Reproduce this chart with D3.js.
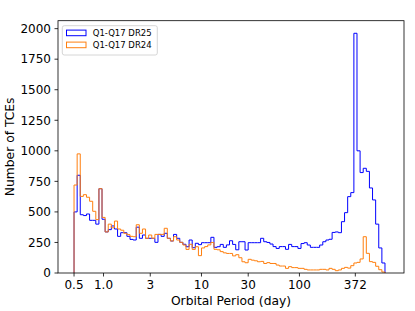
<!DOCTYPE html>
<html>
<head>
<meta charset="utf-8">
<script src="https://cdn.jsdelivr.net/npm/d3@7"></script>
<style>
  body { margin: 0; background: #fff; }
  svg { display: block; font-family: "DejaVu Sans", sans-serif; }
</style>
</head>
<body>
<svg id="svg"></svg>
<script>
// histogram counts per log-spaced period bin (100 bins, 0.5 .. ~747 days)
const binStart = 0.5;
const binEnd = 747;
const dr25 = [500, 800, 477, 470, 483, 431, 431, 400, 690, 440,
    336, 355, 385, 360, 300, 330, 330, 300, 275, 270,
    375, 284, 311, 284, 284, 284, 251, 316, 300, 325,
    284, 262, 316, 284, 251, 235, 215, 270, 207, 243,
    232, 248, 248, 248, 292, 210, 215, 234, 210, 230,
    264, 234, 190, 256, 256, 188, 248, 248, 248, 248,
    284, 256, 250, 237, 216, 201, 216, 216, 194, 234,
    216, 216, 201, 241, 248, 229, 210, 210, 210, 229,
    256, 270, 276, 332, 336, 330, 420, 494, 625, 658,
    1962, 1000, 822, 857, 832, 696, 598, 400, 205, 82];
const dr24 = [720, 975, 627, 641, 620, 587, 505, 437, 690, 455,
    336, 400, 370, 425, 360, 350, 325, 314, 300, 297,
    395, 325, 360, 284, 311, 284, 316, 316, 316, 366,
    284, 262, 297, 270, 251, 229, 193, 235, 193, 215,
    142, 205, 216, 230, 250, 194, 190, 175, 165, 160,
    160, 140, 150, 125, 92, 84, 112, 105, 100, 92,
    95, 78, 85, 78, 78, 65, 57, 57, 38, 52,
    44, 44, 38, 38, 30, 25, 25, 25, 25, 30,
    30, 25, 38, 30, 19, 25, 38, 46, 40, 60,
    82, 87, 115, 297, 161, 93, 87, 55, 27, 8];
const seriesNames = ["Q1-Q17 DR25", "Q1-Q17 DR24"];
const xTicks = [0.5, 1.0, 3, 10, 30, 100, 372];
const xTickLabels = ["0.5", "1.0", "3", "10", "30", "100", "372"];
const yTicks = [0, 250, 500, 750, 1000, 1250, 1500, 1750, 2000];

let width = 415;
let height = 311;
let svg = d3.select("#svg").attr("width", width).attr("height", height);

let mLeft = 58, mRight = 404, mTop = 20.7, mBottom = 273;

let x = d3.scaleLog().domain([0.343, 1168]).range([mLeft, mRight]);
let y = d3.scaleLinear().domain([0, 2065]).range([mBottom, mTop]);

// bin edges evenly spaced in log period
let nBins = dr25.length;
let edges = d3.range(nBins + 1).map(i =>
    Math.pow(10, Math.log10(binStart) + i * (Math.log10(binEnd) - Math.log10(binStart)) / nBins));

function stepPoints(values) {
    let pts = [[edges[0], 0]];
    values.forEach((v, i) => {
        pts.push([edges[i], v]);
        pts.push([edges[i + 1], v]);
    });
    pts.push([edges[nBins], 0]);
    return pts;
}

let line = d3.line().x(d => x(d[0])).y(d => y(d[1]));

let colors = ["#0000ff", "#ff7f0e"];

[dr25, dr24].forEach((vals, k) => {
    svg.append("path")
        .attr("d", line(stepPoints(vals)))
        .attr("fill", "none")
        .attr("stroke", colors[k])
        .attr("stroke-width", 1)
        .attr("stroke-linejoin", "miter");
});

// axes frame
svg.append("rect")
    .attr("x", mLeft).attr("y", mTop)
    .attr("width", mRight - mLeft).attr("height", mBottom - mTop)
    .attr("fill", "none").attr("stroke", "#000").attr("stroke-width", 0.8);

// x ticks
let xg = svg.append("g");
xTicks.forEach((t, i) => {
    xg.append("line")
        .attr("x1", x(t)).attr("x2", x(t))
        .attr("y1", mBottom).attr("y2", mBottom + 3.5)
        .attr("stroke", "#000").attr("stroke-width", 0.8);
    xg.append("text")
        .attr("x", x(t)).attr("y", mBottom + 16)
        .attr("text-anchor", "middle")
        .attr("font-size", "12px")
        .text(xTickLabels[i]);
});

// y ticks
let yg = svg.append("g");
yTicks.forEach(t => {
    yg.append("line")
        .attr("x1", mLeft - 3.5).attr("x2", mLeft)
        .attr("y1", y(t)).attr("y2", y(t))
        .attr("stroke", "#000").attr("stroke-width", 0.8);
    yg.append("text")
        .attr("x", mLeft - 7).attr("y", y(t) + 4.3)
        .attr("text-anchor", "end")
        .attr("font-size", "12px")
        .text(t);
});

// axis labels
svg.append("text")
    .attr("x", (mLeft + mRight) / 2).attr("y", 304.5)
    .attr("text-anchor", "middle")
    .attr("font-size", "12.3px")
    .text("Orbital Period (day)");

svg.append("text")
    .attr("transform", "translate(14," + ((mTop + mBottom) / 2) + ") rotate(-90)")
    .attr("text-anchor", "middle")
    .attr("font-size", "12.3px")
    .text("Number of TCEs");

// legend
let lg = svg.append("g");
lg.append("rect")
    .attr("x", 62.3).attr("y", 25.7)
    .attr("width", 95).attr("height", 29.3)
    .attr("rx", 2).attr("ry", 2)
    .attr("fill", "#fff").attr("fill-opacity", 0.8)
    .attr("stroke", "#cccccc").attr("stroke-width", 0.8);

seriesNames.forEach((name, k) => {
    let cy = 32.9 + k * 12;
    lg.append("rect")
        .attr("x", 66.5).attr("y", cy - 2.8)
        .attr("width", 19.5).attr("height", 5.6)
        .attr("fill", "none")
        .attr("stroke", colors[k]).attr("stroke-width", 1);
    lg.append("text")
        .attr("x", 92.7).attr("y", cy + 3.1)
        .attr("font-size", "8.5px")
        .text(name);
});
</script>
</body>
</html>
